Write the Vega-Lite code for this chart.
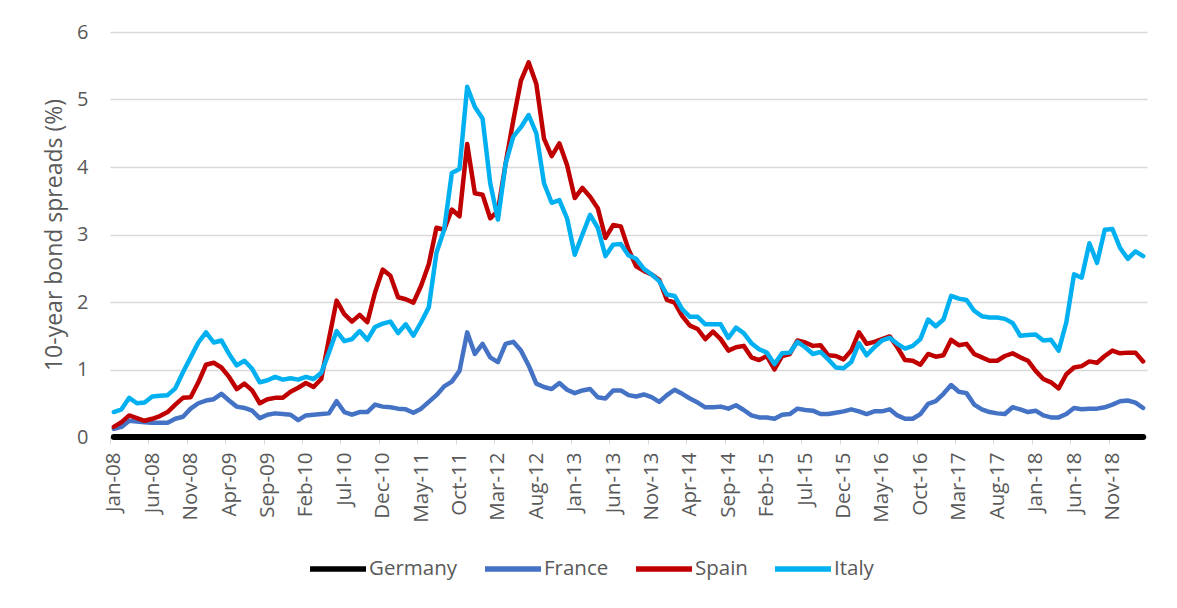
{
  "$schema": "https://vega.github.io/schema/vega-lite/v6.json",
  "autosize": "none",
  "width": 1037,
  "height": 405,
  "padding": {"left": 110, "top": 32, "right": 30, "bottom": 171},
  "background": "white",
  "data": {"values": [
    {"m":"Jan-08","Germany":0,"France":0.12,"Spain":0.15,"Italy":0.37},
    {"m":"Feb-08","Germany":0,"France":0.15,"Spain":0.22,"Italy":0.41},
    {"m":"Mar-08","Germany":0,"France":0.24,"Spain":0.32,"Italy":0.58},
    {"m":"Apr-08","Germany":0,"France":0.23,"Spain":0.28,"Italy":0.50},
    {"m":"May-08","Germany":0,"France":0.22,"Spain":0.24,"Italy":0.51},
    {"m":"Jun-08","Germany":0,"France":0.21,"Spain":0.27,"Italy":0.60},
    {"m":"Jul-08","Germany":0,"France":0.21,"Spain":0.31,"Italy":0.61},
    {"m":"Aug-08","Germany":0,"France":0.21,"Spain":0.37,"Italy":0.62},
    {"m":"Sep-08","Germany":0,"France":0.27,"Spain":0.48,"Italy":0.72},
    {"m":"Oct-08","Germany":0,"France":0.30,"Spain":0.58,"Italy":0.96},
    {"m":"Nov-08","Germany":0,"France":0.42,"Spain":0.59,"Italy":1.18},
    {"m":"Dec-08","Germany":0,"France":0.50,"Spain":0.81,"Italy":1.40},
    {"m":"Jan-09","Germany":0,"France":0.54,"Spain":1.07,"Italy":1.55},
    {"m":"Feb-09","Germany":0,"France":0.56,"Spain":1.10,"Italy":1.40},
    {"m":"Mar-09","Germany":0,"France":0.64,"Spain":1.03,"Italy":1.43},
    {"m":"Apr-09","Germany":0,"France":0.54,"Spain":0.89,"Italy":1.23},
    {"m":"May-09","Germany":0,"France":0.45,"Spain":0.71,"Italy":1.06},
    {"m":"Jun-09","Germany":0,"France":0.43,"Spain":0.79,"Italy":1.13},
    {"m":"Jul-09","Germany":0,"France":0.39,"Spain":0.69,"Italy":1.01},
    {"m":"Aug-09","Germany":0,"France":0.28,"Spain":0.50,"Italy":0.81},
    {"m":"Sep-09","Germany":0,"France":0.33,"Spain":0.56,"Italy":0.84},
    {"m":"Oct-09","Germany":0,"France":0.35,"Spain":0.58,"Italy":0.89},
    {"m":"Nov-09","Germany":0,"France":0.34,"Spain":0.58,"Italy":0.85},
    {"m":"Dec-09","Germany":0,"France":0.33,"Spain":0.67,"Italy":0.87},
    {"m":"Jan-10","Germany":0,"France":0.25,"Spain":0.73,"Italy":0.85},
    {"m":"Feb-10","Germany":0,"France":0.32,"Spain":0.80,"Italy":0.89},
    {"m":"Mar-10","Germany":0,"France":0.33,"Spain":0.74,"Italy":0.86},
    {"m":"Apr-10","Germany":0,"France":0.34,"Spain":0.86,"Italy":0.95},
    {"m":"May-10","Germany":0,"France":0.35,"Spain":1.45,"Italy":1.25},
    {"m":"Jun-10","Germany":0,"France":0.53,"Spain":2.02,"Italy":1.57},
    {"m":"Jul-10","Germany":0,"France":0.37,"Spain":1.82,"Italy":1.42},
    {"m":"Aug-10","Germany":0,"France":0.33,"Spain":1.71,"Italy":1.45},
    {"m":"Sep-10","Germany":0,"France":0.37,"Spain":1.81,"Italy":1.57},
    {"m":"Oct-10","Germany":0,"France":0.37,"Spain":1.70,"Italy":1.44},
    {"m":"Nov-10","Germany":0,"France":0.48,"Spain":2.14,"Italy":1.63},
    {"m":"Dec-10","Germany":0,"France":0.45,"Spain":2.48,"Italy":1.68},
    {"m":"Jan-11","Germany":0,"France":0.44,"Spain":2.39,"Italy":1.71},
    {"m":"Feb-11","Germany":0,"France":0.42,"Spain":2.07,"Italy":1.54},
    {"m":"Mar-11","Germany":0,"France":0.41,"Spain":2.04,"Italy":1.67},
    {"m":"Apr-11","Germany":0,"France":0.36,"Spain":1.99,"Italy":1.50},
    {"m":"May-11","Germany":0,"France":0.42,"Spain":2.24,"Italy":1.70},
    {"m":"Jun-11","Germany":0,"France":0.52,"Spain":2.56,"Italy":1.92},
    {"m":"Jul-11","Germany":0,"France":0.62,"Spain":3.10,"Italy":2.73},
    {"m":"Aug-11","Germany":0,"France":0.75,"Spain":3.07,"Italy":3.07},
    {"m":"Sep-11","Germany":0,"France":0.82,"Spain":3.37,"Italy":3.91},
    {"m":"Oct-11","Germany":0,"France":0.98,"Spain":3.27,"Italy":3.97},
    {"m":"Nov-11","Germany":0,"France":1.55,"Spain":4.34,"Italy":5.19},
    {"m":"Dec-11","Germany":0,"France":1.23,"Spain":3.61,"Italy":4.89},
    {"m":"Jan-12","Germany":0,"France":1.38,"Spain":3.59,"Italy":4.72},
    {"m":"Feb-12","Germany":0,"France":1.18,"Spain":3.24,"Italy":3.76},
    {"m":"Mar-12","Germany":0,"France":1.11,"Spain":3.35,"Italy":3.22},
    {"m":"Apr-12","Germany":0,"France":1.38,"Spain":4.05,"Italy":4.05},
    {"m":"May-12","Germany":0,"France":1.41,"Spain":4.69,"Italy":4.45},
    {"m":"Jun-12","Germany":0,"France":1.28,"Spain":5.28,"Italy":4.59},
    {"m":"Jul-12","Germany":0,"France":1.06,"Spain":5.55,"Italy":4.77},
    {"m":"Aug-12","Germany":0,"France":0.79,"Spain":5.23,"Italy":4.50},
    {"m":"Sep-12","Germany":0,"France":0.74,"Spain":4.42,"Italy":3.76},
    {"m":"Oct-12","Germany":0,"France":0.71,"Spain":4.16,"Italy":3.47},
    {"m":"Nov-12","Germany":0,"France":0.80,"Spain":4.35,"Italy":3.51},
    {"m":"Dec-12","Germany":0,"France":0.70,"Spain":4.03,"Italy":3.24},
    {"m":"Jan-13","Germany":0,"France":0.65,"Spain":3.54,"Italy":2.70},
    {"m":"Feb-13","Germany":0,"France":0.69,"Spain":3.69,"Italy":3.00},
    {"m":"Mar-13","Germany":0,"France":0.71,"Spain":3.56,"Italy":3.29},
    {"m":"Apr-13","Germany":0,"France":0.59,"Spain":3.39,"Italy":3.10},
    {"m":"May-13","Germany":0,"France":0.57,"Spain":2.95,"Italy":2.68},
    {"m":"Jun-13","Germany":0,"France":0.69,"Spain":3.14,"Italy":2.85},
    {"m":"Jul-13","Germany":0,"France":0.69,"Spain":3.12,"Italy":2.86},
    {"m":"Aug-13","Germany":0,"France":0.62,"Spain":2.78,"Italy":2.69},
    {"m":"Sep-13","Germany":0,"France":0.60,"Spain":2.53,"Italy":2.64},
    {"m":"Oct-13","Germany":0,"France":0.63,"Spain":2.46,"Italy":2.49},
    {"m":"Nov-13","Germany":0,"France":0.59,"Spain":2.41,"Italy":2.41},
    {"m":"Dec-13","Germany":0,"France":0.52,"Spain":2.33,"Italy":2.31},
    {"m":"Jan-14","Germany":0,"France":0.62,"Spain":2.03,"Italy":2.11},
    {"m":"Feb-14","Germany":0,"France":0.70,"Spain":1.99,"Italy":2.09},
    {"m":"Mar-14","Germany":0,"France":0.64,"Spain":1.79,"Italy":1.89},
    {"m":"Apr-14","Germany":0,"France":0.57,"Spain":1.65,"Italy":1.78},
    {"m":"May-14","Germany":0,"France":0.51,"Spain":1.60,"Italy":1.78},
    {"m":"Jun-14","Germany":0,"France":0.44,"Spain":1.45,"Italy":1.67},
    {"m":"Jul-14","Germany":0,"France":0.44,"Spain":1.56,"Italy":1.67},
    {"m":"Aug-14","Germany":0,"France":0.45,"Spain":1.45,"Italy":1.67},
    {"m":"Sep-14","Germany":0,"France":0.42,"Spain":1.28,"Italy":1.47},
    {"m":"Oct-14","Germany":0,"France":0.47,"Spain":1.33,"Italy":1.62},
    {"m":"Nov-14","Germany":0,"France":0.40,"Spain":1.35,"Italy":1.54},
    {"m":"Dec-14","Germany":0,"France":0.32,"Spain":1.18,"Italy":1.39},
    {"m":"Jan-15","Germany":0,"France":0.29,"Spain":1.14,"Italy":1.30},
    {"m":"Feb-15","Germany":0,"France":0.29,"Spain":1.20,"Italy":1.25},
    {"m":"Mar-15","Germany":0,"France":0.27,"Spain":1.00,"Italy":1.08},
    {"m":"Apr-15","Germany":0,"France":0.33,"Spain":1.20,"Italy":1.24},
    {"m":"May-15","Germany":0,"France":0.34,"Spain":1.23,"Italy":1.25},
    {"m":"Jun-15","Germany":0,"France":0.42,"Spain":1.43,"Italy":1.41},
    {"m":"Jul-15","Germany":0,"France":0.40,"Spain":1.40,"Italy":1.33},
    {"m":"Aug-15","Germany":0,"France":0.39,"Spain":1.35,"Italy":1.23},
    {"m":"Sep-15","Germany":0,"France":0.34,"Spain":1.36,"Italy":1.26},
    {"m":"Oct-15","Germany":0,"France":0.34,"Spain":1.21,"Italy":1.15},
    {"m":"Nov-15","Germany":0,"France":0.36,"Spain":1.20,"Italy":1.03},
    {"m":"Dec-15","Germany":0,"France":0.38,"Spain":1.15,"Italy":1.02},
    {"m":"Jan-16","Germany":0,"France":0.41,"Spain":1.28,"Italy":1.11},
    {"m":"Feb-16","Germany":0,"France":0.38,"Spain":1.55,"Italy":1.39},
    {"m":"Mar-16","Germany":0,"France":0.34,"Spain":1.38,"Italy":1.21},
    {"m":"Apr-16","Germany":0,"France":0.38,"Spain":1.41,"Italy":1.33},
    {"m":"May-16","Germany":0,"France":0.38,"Spain":1.45,"Italy":1.43},
    {"m":"Jun-16","Germany":0,"France":0.41,"Spain":1.49,"Italy":1.47},
    {"m":"Jul-16","Germany":0,"France":0.32,"Spain":1.33,"Italy":1.38},
    {"m":"Aug-16","Germany":0,"France":0.27,"Spain":1.14,"Italy":1.31},
    {"m":"Sep-16","Germany":0,"France":0.27,"Spain":1.13,"Italy":1.35},
    {"m":"Oct-16","Germany":0,"France":0.34,"Spain":1.07,"Italy":1.45},
    {"m":"Nov-16","Germany":0,"France":0.49,"Spain":1.23,"Italy":1.74},
    {"m":"Dec-16","Germany":0,"France":0.53,"Spain":1.19,"Italy":1.64},
    {"m":"Jan-17","Germany":0,"France":0.64,"Spain":1.21,"Italy":1.74},
    {"m":"Feb-17","Germany":0,"France":0.77,"Spain":1.44,"Italy":2.09},
    {"m":"Mar-17","Germany":0,"France":0.67,"Spain":1.36,"Italy":2.05},
    {"m":"Apr-17","Germany":0,"France":0.65,"Spain":1.38,"Italy":2.03},
    {"m":"May-17","Germany":0,"France":0.48,"Spain":1.23,"Italy":1.87},
    {"m":"Jun-17","Germany":0,"France":0.41,"Spain":1.18,"Italy":1.79},
    {"m":"Jul-17","Germany":0,"France":0.37,"Spain":1.13,"Italy":1.77},
    {"m":"Aug-17","Germany":0,"France":0.35,"Spain":1.13,"Italy":1.77},
    {"m":"Sep-17","Germany":0,"France":0.34,"Spain":1.20,"Italy":1.75},
    {"m":"Oct-17","Germany":0,"France":0.44,"Spain":1.24,"Italy":1.69},
    {"m":"Nov-17","Germany":0,"France":0.41,"Spain":1.18,"Italy":1.50},
    {"m":"Dec-17","Germany":0,"France":0.37,"Spain":1.13,"Italy":1.51},
    {"m":"Jan-18","Germany":0,"France":0.39,"Spain":0.98,"Italy":1.52},
    {"m":"Feb-18","Germany":0,"France":0.32,"Spain":0.86,"Italy":1.43},
    {"m":"Mar-18","Germany":0,"France":0.29,"Spain":0.81,"Italy":1.44},
    {"m":"Apr-18","Germany":0,"France":0.29,"Spain":0.72,"Italy":1.28},
    {"m":"May-18","Germany":0,"France":0.34,"Spain":0.93,"Italy":1.70},
    {"m":"Jun-18","Germany":0,"France":0.43,"Spain":1.03,"Italy":2.41},
    {"m":"Jul-18","Germany":0,"France":0.41,"Spain":1.05,"Italy":2.36},
    {"m":"Aug-18","Germany":0,"France":0.42,"Spain":1.12,"Italy":2.87},
    {"m":"Sep-18","Germany":0,"France":0.42,"Spain":1.10,"Italy":2.58},
    {"m":"Oct-18","Germany":0,"France":0.44,"Spain":1.20,"Italy":3.07},
    {"m":"Nov-18","Germany":0,"France":0.48,"Spain":1.28,"Italy":3.08},
    {"m":"Dec-18","Germany":0,"France":0.53,"Spain":1.24,"Italy":2.80},
    {"m":"Jan-19","Germany":0,"France":0.54,"Spain":1.25,"Italy":2.64},
    {"m":"Feb-19","Germany":0,"France":0.51,"Spain":1.25,"Italy":2.75},
    {"m":"Mar-19","Germany":0,"France":0.43,"Spain":1.12,"Italy":2.68}
  ]},
  "transform": [{"fold": ["Germany", "France", "Spain", "Italy"], "as": ["country", "spread"]}],
  "mark": {"type": "line", "strokeCap": "round", "strokeJoin": "round", "clip": false},
  "encoding": {
    "x": {
      "field": "m", "type": "ordinal", "sort": null,
      "scale": {"type": "point", "padding": 0.5},
      "axis": {
        "title": null,
        "values": ["Jan-08","Jun-08","Nov-08","Apr-09","Sep-09","Feb-10","Jul-10","Dec-10","May-11","Oct-11","Mar-12","Aug-12","Jan-13","Jun-13","Nov-13","Apr-14","Sep-14","Feb-15","Jul-15","Dec-15","May-16","Oct-16","Mar-17","Aug-17","Jan-18","Jun-18","Nov-18"],
        "labelAngle": -90,
        "labelFont": "Open Sans",
        "labelFontSize": 20.5,
        "labelColor": "#595959",
        "labelPadding": 8,
        "domain": false,
        "ticks": true,
        "tickSize": 7,
        "tickColor": "#d9d9d9",
        "tickWidth": 1,
        "tickOffset": -3.84,
        "labelOffset": 3.84,
        "grid": false
      }
    },
    "y": {
      "field": "spread", "type": "quantitative",
      "scale": {"domain": [0, 6], "nice": false, "zero": true},
      "axis": {
        "title": "10-year bond spreads (%)",
        "titleFont": "Open Sans",
        "titleFontSize": 23,
        "titleFontWeight": "normal",
        "titleColor": "#595959",
        "titlePadding": 10,
        "values": [0, 1, 2, 3, 4, 5, 6],
        "labelFont": "Open Sans",
        "labelFontSize": 20,
        "labelColor": "#595959",
        "labelPadding": 22,
        "domain": false,
        "ticks": false,
        "grid": true,
        "gridColor": "#d9d9d9",
        "gridWidth": 1.3
      }
    },
    "color": {
      "field": "country", "type": "nominal",
      "scale": {"domain": ["Germany", "France", "Spain", "Italy"], "range": ["#000000", "#4472C4", "#C00000", "#00B0F0"]},
      "legend": {
        "title": null,
        "orient": "none",
        "legendX": 197,
        "legendY": 506,
        "direction": "horizontal",
        "symbolType": "stroke",
        "symbolSize": 3136,
        "symbolStrokeWidth": 5.5,
        "labelFont": "Open Sans",
        "labelFontSize": 20.5,
        "labelColor": "#595959",
        "labelOffset": 0,
        "columnPadding": 16
      }
    },
    "strokeWidth": {
      "condition": {"test": "datum.country === 'Germany'", "value": 6},
      "value": 4.5
    }
  },
  "config": {"view": {"stroke": null}}
}
